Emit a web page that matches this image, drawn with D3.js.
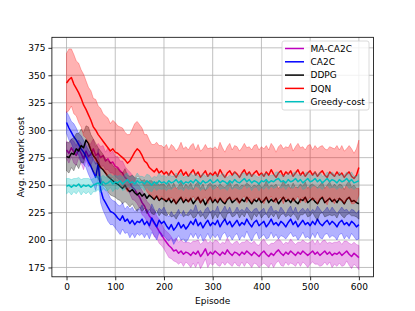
<!DOCTYPE html>
<html>
<head>
<meta charset="utf-8">
<script src="https://cdn.jsdelivr.net/npm/d3@7"></script>
<style>
  body { margin: 0; background: #fff; }
  svg { display: block; font-family: "DejaVu Sans", sans-serif; }
</style>
</head>
<body>
<div id="chart"></div>
<script>
// episodes sampled every 5
var episodes = d3.range(0, 601, 5);

var seriesNames = ["MA-CA2C", "CA2C", "DDPG", "DQN", "Greedy-cost"];
var seriesColors = ["#bf00bf", "#0000ff", "#000000", "#ff0000", "#00bfbf"];

var maca2c = [282,279,284,280,277,283,279,274,281,276,278,283,277,
  279,275,277,272,274,270,271,267,
  266,263,261,257,255,252,248,246,242,239,
  234,231,226,222,219,215,212,208,205,201,
  198,195,193,190,191,188,190,187,189,188,
  186,189,187,190,185,188,192,186,189,187,
  190,188,186,189,187,191,188,186,189,188,
  186,189,187,190,188,186,189,187,185,188,
  190,187,185,188,186,189,191,188,186,189,
  187,190,188,186,189,187,190,188,186,188,
  190,187,189,186,188,190,187,189,186,188,
  187,189,186,188,190,187,185,188,186,184];
var maca2cStd = [8,9,8,10,9,8,9,10,8,9,10,9,8,
  9,10,9,8,10,9,10,9,
  10,9,11,10,9,10,11,10,9,10,
  11,10,9,11,10,12,10,11,10,9,
  10,11,10,9,11,10,10,11,9,10,
  11,10,12,10,11,10,9,11,10,10,
  10,11,10,9,10,11,10,10,9,11,
  10,9,11,10,10,11,10,9,10,11,
  11,10,10,9,11,10,10,11,10,9,
  10,11,10,10,9,11,10,10,11,10,
  10,9,11,10,11,10,10,9,11,10,
  11,10,10,11,9,10,11,10,10,11];

var ca2c = [307,302,298,294,291,287,283,280,276,271,267,262,257,
  270,246,238,234,230,226,225,223,
  220,218,222,217,219,215,218,214,217,216,
  219,214,217,213,220,216,212,218,215,217,
  213,210,214,209,212,216,211,214,210,213,
  217,214,219,213,216,211,215,218,213,216,
  214,218,212,216,219,214,217,212,215,218,
  213,216,214,219,215,212,216,218,213,215,
  217,212,215,219,214,216,213,217,215,212,
  216,219,214,217,212,215,218,214,216,213,
  217,214,219,215,213,216,218,214,217,215,
  212,216,218,214,216,213,217,215,212,214];
var ca2cStd = [10,11,10,12,11,10,12,11,10,11,12,11,12,
  13,12,11,12,13,12,11,12,
  12,13,12,11,12,13,12,12,11,12,
  13,12,11,12,13,12,12,11,12,13,
  12,11,12,13,12,12,11,13,12,12,
  11,12,13,12,11,12,13,12,12,11,
  12,13,12,11,12,12,13,12,11,12,
  13,12,12,11,12,13,12,11,12,12,
  12,11,13,12,12,11,12,13,12,11,
  12,12,11,13,12,12,11,12,13,12,
  11,12,12,13,12,11,12,12,13,12,
  12,11,12,13,12,12,11,12,12,13];

var ddpg = [276,275,279,278,283,281,286,284,291,288,282,277,274,
  270,266,264,261,258,256,254,252,
  251,249,247,250,246,244,246,243,241,243,
  240,242,238,241,239,237,240,236,238,237,
  235,238,234,237,233,236,239,234,237,235,
  238,233,236,239,234,237,232,236,239,234,
  237,234,238,235,233,237,239,234,236,238,
  234,237,235,239,236,233,237,235,238,234,
  236,239,234,237,235,238,233,236,239,235,
  237,234,238,235,233,237,236,239,234,236,
  238,235,233,237,239,234,236,238,235,237,
  234,238,236,233,237,239,235,236,234,233];
var ddpgStd = [13,14,13,15,14,16,15,14,13,15,14,15,14,
  14,15,14,13,14,15,14,13,
  14,13,14,15,13,14,13,14,15,13,
  14,13,14,13,15,14,13,14,13,14,
  13,14,13,15,14,13,14,13,14,13,
  14,13,15,14,13,14,13,14,13,15,
  13,14,13,14,15,13,14,13,14,13,
  14,13,14,13,14,15,13,14,13,14,
  13,15,14,13,14,13,14,13,15,14,
  14,13,14,13,15,14,13,14,13,14,
  13,14,15,13,14,13,14,15,13,14,
  14,13,14,13,14,15,13,14,13,14];

var dqn = [343,346,348,342,338,334,329,323,319,314,309,303,300,
  296,293,290,287,284,281,283,280,
  279,277,275,273,270,272,276,280,283,281,
  277,272,270,266,264,262,265,261,263,260,
  262,259,263,260,257,261,264,259,262,258,
  261,264,259,262,257,260,263,258,261,259,
  262,258,264,260,257,261,263,259,262,260,
  257,261,264,259,262,258,261,263,259,261,
  258,262,259,264,260,257,261,263,258,262,
  260,263,258,261,264,259,262,258,261,263,
  259,262,258,261,263,259,257,262,260,258,
  262,259,261,257,260,262,258,256,259,266];
var dqnStd = [27,28,26,27,25,27,26,28,26,25,27,26,28,
  26,27,25,26,27,25,26,27,
  25,26,27,25,26,24,25,26,25,24,
  25,24,26,25,23,25,24,25,23,24,
  25,23,24,25,24,23,25,24,23,24,
  25,24,23,25,24,23,24,25,23,24,
  23,24,25,24,23,24,25,23,24,25,
  24,23,24,25,23,24,25,24,23,24,
  25,24,23,24,25,23,24,24,25,23,
  24,25,23,24,24,25,23,24,25,24,
  23,24,25,24,23,24,25,23,24,25,
  24,23,25,24,23,24,25,23,24,25];

var greedy = [249,250,248,250,249,251,248,250,249,250,248,250,251,
  252,250,253,251,252,254,251,253,
  252,254,251,253,255,252,253,251,254,252,
  253,251,254,252,250,253,251,254,252,253,
  251,254,252,253,255,252,254,251,253,252,
  254,252,255,253,251,254,252,253,255,252,
  253,255,252,254,253,251,254,252,255,253,
  252,254,256,253,255,252,254,253,251,254,
  253,255,252,254,253,255,256,253,254,252,
  255,253,254,256,253,255,252,254,256,253,
  254,256,253,255,252,254,256,253,255,254,
  252,255,253,254,256,253,255,252,253,254];
var greedyStd = [7,6,7,6,7,6,7,6,7,6,7,6,7,
  6,7,6,6,7,6,7,6,
  6,5,6,7,6,5,6,6,7,6,
  5,6,6,7,6,5,6,7,6,6,
  6,7,6,5,6,6,7,6,5,6,
  7,6,6,5,6,7,6,6,5,6,
  6,5,6,7,6,6,5,6,7,6,
  6,7,5,6,6,7,6,5,6,6,
  7,6,6,5,6,7,6,6,5,6,
  6,5,7,6,6,5,6,7,6,6,
  5,6,6,7,6,5,6,6,7,6,
  6,7,6,5,6,6,7,6,5,6];

var xTicks = [0, 100, 200, 300, 400, 500, 600];
var yTicks = [175, 200, 225, 250, 275, 300, 325, 350, 375];

var allMeans = [maca2c, ca2c, ddpg, dqn, greedy];
var allStds = [maca2cStd, ca2cStd, ddpgStd, dqnStd, greedyStd];

var svgWidth = 415, svgHeight = 311;
var margin = { top: 37.3, right: 41.5, bottom: 34.2, left: 51.9 };
var w = svgWidth - margin.left - margin.right;
var h = svgHeight - margin.top - margin.bottom;

var svg = d3.select("#chart").append("svg")
  .attr("width", svgWidth)
  .attr("height", svgHeight);

var chartGroup = svg.append("g")
  .attr("transform", `translate(${margin.left}, ${margin.top})`);

var xScale = d3.scaleLinear().domain([-30, 630]).range([0, w]);
var yScale = d3.scaleLinear().domain([166.5, 384.6]).range([h, 0]);

svg.append("defs").append("clipPath").attr("id", "plotclip")
  .append("rect").attr("width", w).attr("height", h);

// grid
chartGroup.append("g").selectAll("line").data(xTicks).enter().append("line")
  .attr("x1", d => xScale(d)).attr("x2", d => xScale(d))
  .attr("y1", 0).attr("y2", h)
  .attr("stroke", "#b0b0b0").attr("stroke-width", 0.8);
chartGroup.append("g").selectAll("line").data(yTicks).enter().append("line")
  .attr("y1", d => yScale(d)).attr("y2", d => yScale(d))
  .attr("x1", 0).attr("x2", w)
  .attr("stroke", "#b0b0b0").attr("stroke-width", 0.8);

var plot = chartGroup.append("g").attr("clip-path", "url(#plotclip)");

var line = d3.line().x((d, i) => xScale(episodes[i])).y(d => yScale(d));

allMeans.forEach(function (means, k) {
  var std = allStds[k];
  var area = d3.area()
    .x((d, i) => xScale(episodes[i]))
    .y0((d, i) => yScale(d - std[i]))
    .y1((d, i) => yScale(d + std[i]));
  plot.append("path").datum(means)
    .attr("d", area)
    .attr("fill", seriesColors[k]).attr("fill-opacity", 0.3)
    .attr("stroke", seriesColors[k]).attr("stroke-opacity", 0.3)
    .attr("stroke-width", 0.9);
  plot.append("path").datum(means)
    .attr("d", line)
    .attr("fill", "none")
    .attr("stroke", seriesColors[k])
    .attr("stroke-width", 1.5)
    .attr("stroke-linejoin", "round");
});

// axes
var xAxis = d3.axisBottom(xScale).tickValues(xTicks).tickSize(3.5).tickPadding(3);
var yAxis = d3.axisLeft(yScale).tickValues(yTicks).tickSize(3.5).tickPadding(3);

var gx = chartGroup.append("g").attr("transform", `translate(0, ${h})`).call(xAxis);
var gy = chartGroup.append("g").call(yAxis);
[gx, gy].forEach(function (g) {
  g.select(".domain").remove();
  g.selectAll("line").attr("stroke", "#000").attr("stroke-width", 0.8);
  g.selectAll("text").attr("font-size", "9px").attr("fill", "#000")
    .attr("font-family", "DejaVu Sans");
});

// frame
chartGroup.append("rect").attr("width", w).attr("height", h)
  .attr("fill", "none").attr("stroke", "#000").attr("stroke-width", 0.8);

// axis labels
chartGroup.append("text")
  .attr("x", w / 2).attr("y", h + 27)
  .attr("text-anchor", "middle").attr("font-size", "9px")
  .text("Episode");

chartGroup.append("text")
  .attr("transform", "rotate(-90)")
  .attr("x", -h / 2).attr("y", -28)
  .attr("text-anchor", "middle").attr("font-size", "9px")
  .text("Avg. network cost");

// legend
var legend = svg.append("g").attr("transform", "translate(282, 41)");
legend.append("rect")
  .attr("width", 87).attr("height", 69).attr("rx", 2)
  .attr("fill", "#fff").attr("fill-opacity", 0.8)
  .attr("stroke", "#d0d0d0").attr("stroke-width", 0.8);

seriesNames.forEach(function (name, k) {
  var y = 7.5 + k * 13.3;
  legend.append("line")
    .attr("x1", 3).attr("x2", 22).attr("y1", y).attr("y2", y)
    .attr("stroke", seriesColors[k]).attr("stroke-width", 1.5);
  legend.append("text")
    .attr("x", 28.5).attr("y", y + 3.2)
    .attr("font-size", "9px")
    .text(name);
});
</script>
</body>
</html>
